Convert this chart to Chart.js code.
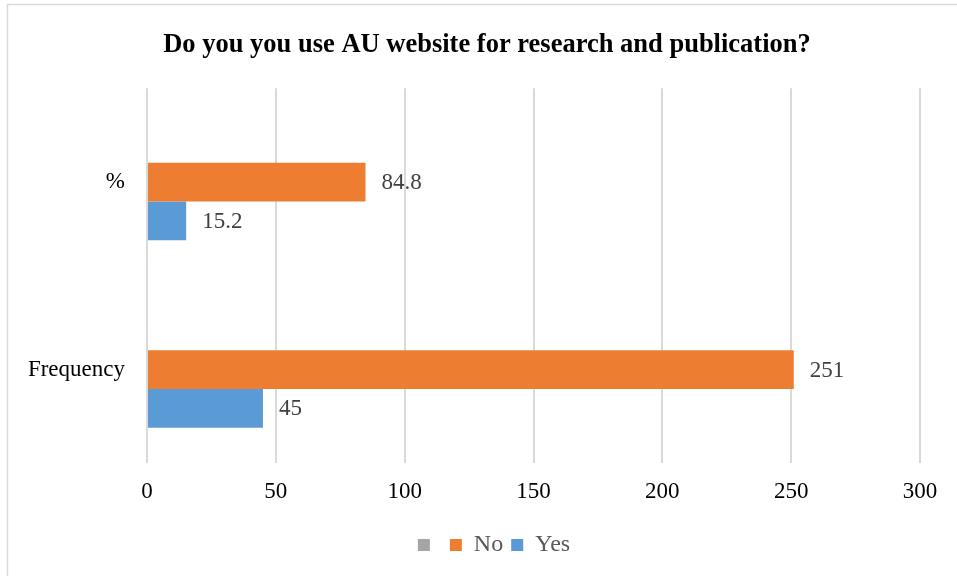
<!DOCTYPE html>
<html>
<head>
<meta charset="utf-8">
<script src="https://cdn.jsdelivr.net/npm/chart.js@4/dist/chart.umd.min.js"></script>
<style>
  html, body { margin: 0; padding: 0; background: #fff; }
  #wrap { width: 957px; height: 576px; }
</style>
</head>
<body>
<div id="wrap"><canvas id="barChart" width="957" height="576"></canvas></div>
<script>
// categories top to bottom
const categories = ["%", "Frequency"];
const blankValues = [null, null];
const noValues = [84.8, 251];
const yesValues = [15.2, 45];
const tickValues = [0, 50, 100, 150, 200, 250, 300];

const serif = "'Liberation Serif', 'Times New Roman', serif";

// frame line on top and left, like the original picture
const framePlugin = {
  id: "frame",
  beforeDraw(chart) {
    const c = chart.ctx;
    c.save();
    c.fillStyle = "#fff";
    c.fillRect(0, 0, chart.width, chart.height);
    c.strokeStyle = "#d9d9d9";
    c.lineWidth = 1.5;
    c.beginPath();
    c.moveTo(7.5, chart.height);
    c.lineTo(7.5, 4.5);
    c.lineTo(chart.width, 4.5);
    c.stroke();
    c.restore();
  },
  // title and legend sit a bit right of the plot centre in the original
  afterLayout(chart) {
    if (chart.legend) {
      chart.legend.left += 29;
      chart.legend.right += 29;
    }
    if (chart.titleBlock) {
      chart.titleBlock.left += 22;
      chart.titleBlock.right += 22;
    }
  }
};

// value labels at the end of each bar
const valueLabels = {
  id: "valueLabels",
  afterDatasetsDraw(chart) {
    const c = chart.ctx;
    c.save();
    c.font = "23px " + serif;
    c.fillStyle = "#404040";
    c.textAlign = "left";
    c.textBaseline = "middle";
    chart.data.datasets.forEach((ds, i) => {
      const meta = chart.getDatasetMeta(i);
      meta.data.forEach((bar, j) => {
        const v = ds.data[j];
        if (v === null || v === undefined) return;
        c.fillText(String(v), bar.x + 16, bar.y + 1);
      });
    });
    c.restore();
  }
};

const ctx = document.getElementById("barChart").getContext("2d");
window.myChart = new Chart(ctx, {
  type: "bar",
  data: {
    labels: categories,
    datasets: [
      { label: "", data: blankValues, backgroundColor: "#A5A5A5" },
      { label: "No", data: noValues, backgroundColor: "#ED7D31" },
      { label: "Yes", data: yesValues, backgroundColor: "#5B9BD5" }
    ]
  },
  options: {
    indexAxis: "y",
    responsive: false,
    animation: false,
    datasets: {
      bar: { categoryPercentage: 0.62, barPercentage: 1.0 }
    },
    layout: { padding: { left: 10, right: 37, top: 0, bottom: 9 } },
    scales: {
      x: {
        min: 0,
        max: 300,
        afterBuildTicks(scale) {
          scale.ticks = tickValues.map(v => ({ value: v }));
        },
        afterFit(scale) { scale.height += 4; },
        grid: { color: "#d9d9d9", lineWidth: 2, drawTicks: false },
        border: { display: false },
        ticks: { color: "#000", padding: 15, font: { family: serif, size: 23 } }
      },
      y: {
        grid: { display: false, drawTicks: false },
        border: { display: false },
        afterFit(scale) { scale.width = 137; },
        ticks: { color: "#000", padding: 22, font: { family: serif, size: 23 } }
      }
    },
    plugins: {
      title: {
        display: true,
        text: "Do you you use AU website for research and publication?",
        color: "#000",
        font: { family: serif, size: 26.5, weight: "bold" },
        padding: { top: 29, bottom: 27.5 }
      },
      legend: {
        position: "bottom",
        labels: {
          color: "#595959",
          boxWidth: 12,
          boxHeight: 12,
          padding: 8,
          font: { family: serif, size: 24 }
        }
      },
      tooltip: { enabled: false }
    }
  },
  plugins: [framePlugin, valueLabels]
});
</script>
</body>
</html>
